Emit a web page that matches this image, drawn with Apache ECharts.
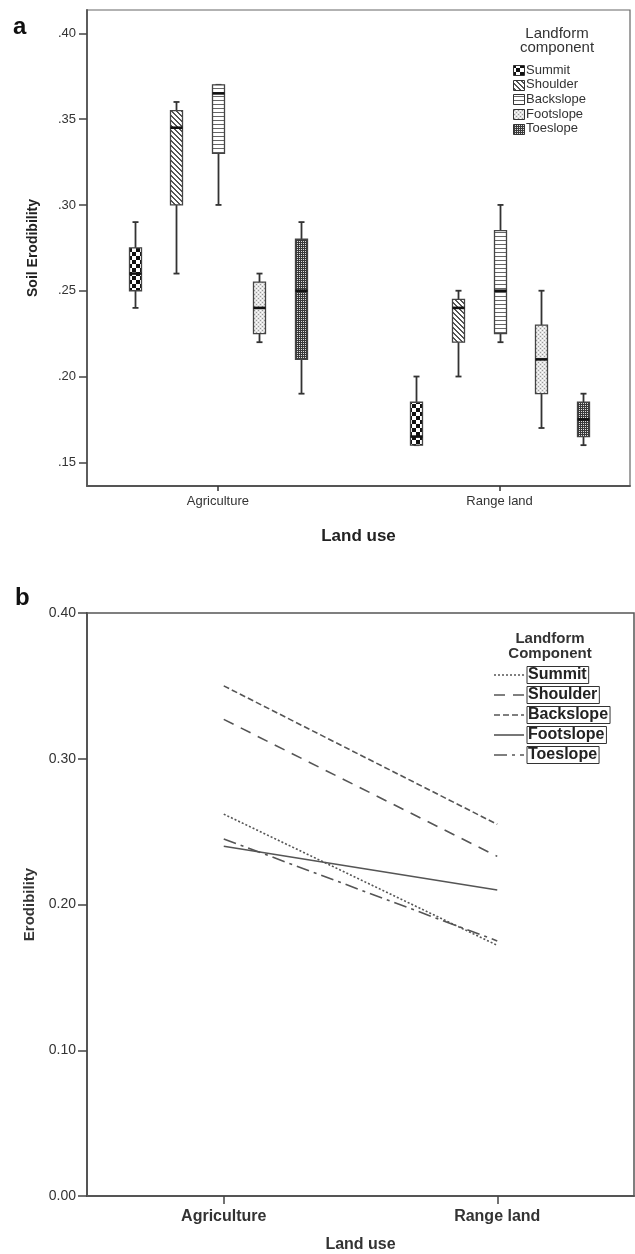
<!DOCTYPE html>
<html><head><meta charset="utf-8">
<script src="https://cdn.jsdelivr.net/npm/echarts@6/dist/echarts.min.js"></script>
<style>html,body{margin:0;padding:0;background:#fff}#c{width:635px;height:1254px}</style>
</head><body><div id="c"></div>
<script>
// ---------- data ----------
const landUse = ['Agriculture', 'Range land'];
const landforms = ['Summit', 'Shoulder', 'Backslope', 'Footslope', 'Toeslope'];
// panel a: box statistics [min, Q1, median, Q3, max]
const agriSummit    = [0.24, 0.25, 0.26, 0.275, 0.29];
const agriShoulder  = [0.26, 0.30, 0.345, 0.355, 0.36];
const agriBackslope = [0.30, 0.33, 0.365, 0.37, 0.37];
const agriFootslope = [0.22, 0.225, 0.24, 0.255, 0.26];
const agriToeslope  = [0.19, 0.21, 0.25, 0.28, 0.29];
const rangeSummit    = [0.16, 0.16, 0.165, 0.185, 0.20];
const rangeShoulder  = [0.20, 0.22, 0.24, 0.245, 0.25];
const rangeBackslope = [0.22, 0.225, 0.25, 0.285, 0.30];
const rangeFootslope = [0.17, 0.19, 0.21, 0.23, 0.25];
const rangeToeslope  = [0.16, 0.165, 0.175, 0.185, 0.19];
const yTicksA = [0.15, 0.20, 0.25, 0.30, 0.35, 0.40];
// panel b: mean erodibility [Agriculture, Range land]
const meanSummit    = [0.262, 0.172];
const meanShoulder  = [0.327, 0.233];
const meanBackslope = [0.350, 0.255];
const meanFootslope = [0.240, 0.210];
const meanToeslope  = [0.245, 0.175];

const agriBoxes  = [agriSummit, agriShoulder, agriBackslope, agriFootslope, agriToeslope];
const rangeBoxes = [rangeSummit, rangeShoulder, rangeBackslope, rangeFootslope, rangeToeslope];
const means = [meanSummit, meanShoulder, meanBackslope, meanFootslope, meanToeslope];

// ---------- styles ----------
const FONT = 'Liberation Sans, Arial, sans-serif';
function pat(w, h, draw) {
  const c = document.createElement('canvas'); c.width = w; c.height = h;
  const g = c.getContext('2d'); g.fillStyle = '#fff'; g.fillRect(0, 0, w, h); draw(g);
  return { image: c, repeat: 'repeat' };
}
const patterns = [
  pat(8, 8, g => { g.fillStyle = '#111'; g.fillRect(0, 0, 4, 4); g.fillRect(4, 4, 4, 4); }),
  pat(5, 5, g => { g.fillStyle = '#555'; for (let i = 0; i < 5; i++) { g.fillRect(i, i, 1, 1); g.fillRect((i + 1) % 5, i, 1, 1); } }),
  pat(1, 4, g => { g.fillStyle = '#666'; g.fillRect(0, 0, 1, 1); }),
  pat(4, 4, g => { g.fillStyle = '#e2e2e2'; g.fillRect(0, 0, 4, 4); g.fillStyle = '#999'; g.fillRect(0, 0, 1, 1); g.fillRect(2, 2, 1, 1); g.fillStyle = '#fff'; g.fillRect(2, 0, 1, 1); g.fillRect(0, 2, 1, 1); }),
  pat(4, 4, g => { g.fillStyle = '#3a3a3a'; g.fillRect(0, 0, 4, 4); g.fillStyle = '#ddd'; g.fillRect(1, 1, 1, 1); g.fillRect(3, 3, 1, 1); g.fillRect(1, 3, 1, 1); g.fillRect(3, 1, 1, 1); })
];
const dashes = [[2, 2], [11, 8], [6, 3], 'solid', [13, 5, 3, 5]];
const BOX_STEP = 0.1475; // spacing between neighbouring boxes, in category units

function boxSeries(i) {
  return {
    type: 'custom', name: landforms[i], xAxisIndex: 0, yAxisIndex: 0,
    data: [[1].concat(agriBoxes[i]), [2].concat(rangeBoxes[i])],
    encode: { x: 0, y: [1, 2, 3, 4, 5] },
    renderItem: function (params, api) {
      const xv = api.value(0) + (i - 2) * BOX_STEP;
      const lo = api.coord([xv, api.value(1)]);
      const q1 = api.coord([xv, api.value(2)]);
      const md = api.coord([xv, api.value(3)]);
      const q3 = api.coord([xv, api.value(4)]);
      const hi = api.coord([xv, api.value(5)]);
      const cx = Math.round(lo[0]) + 0.5, hw = 6, cw = 3;
      const ws = { stroke: '#333', lineWidth: 1.8 };
      return { type: 'group', children: [
        { type: 'line', shape: { x1: cx, y1: hi[1], x2: cx, y2: q3[1] }, style: ws },
        { type: 'line', shape: { x1: cx, y1: q1[1], x2: cx, y2: lo[1] }, style: ws },
        { type: 'line', shape: { x1: cx - cw, y1: hi[1], x2: cx + cw, y2: hi[1] }, style: ws },
        { type: 'line', shape: { x1: cx - cw, y1: lo[1], x2: cx + cw, y2: lo[1] }, style: ws },
        { type: 'rect', shape: { x: cx - hw, y: q3[1], width: 2 * hw, height: q1[1] - q3[1] },
          style: { fill: patterns[i], stroke: '#444', lineWidth: 1.3 } },
        { type: 'line', shape: { x1: cx - hw, y1: md[1], x2: cx + hw, y2: md[1] }, style: { stroke: '#111', lineWidth: 2.6 } }
      ] };
    }
  };
}

function lineSeries(i) {
  return {
    type: 'line', name: landforms[i], xAxisIndex: 1, yAxisIndex: 1,
    data: means[i], symbol: 'none', silent: true,
    lineStyle: { color: '#555', width: 1.6, type: dashes[i] }
  };
}

// ---------- legends (graphic) ----------
const graphics = [];
graphics.push({ type: 'text', left: 13, top: 15, style: { text: 'a', font: 'bold 24px Liberation Sans Narrow, ' + FONT, fill: '#111' } });
graphics.push({ type: 'text', left: 15, top: 586, style: { text: 'b', font: 'bold 24px Liberation Sans Narrow, ' + FONT, fill: '#111' } });
graphics.push({ type: 'text', x: 557, y: 27, style: { text: 'Landform\ncomponent', align: 'center', font: '15px ' + FONT, lineHeight: 14, fill: '#333' } });
landforms.forEach((n, i) => {
  const y = 70 + i * 14.7;
  graphics.push({ type: 'rect', shape: { x: 513.5, y: Math.round(y - 5) + 0.5, width: 11, height: 10 }, style: { fill: patterns[i], stroke: '#333', lineWidth: 1 } });
  graphics.push({ type: 'text', x: 526, y: y, style: { text: n, verticalAlign: 'middle', font: '13px ' + FONT, fill: '#333' } });
});
graphics.push({ type: 'text', x: 550, y: 631, style: { text: 'Landform\nComponent', align: 'center', font: 'bold 15px ' + FONT, lineHeight: 15, fill: '#333' } });
landforms.forEach((n, i) => {
  const y = 675 + i * 20;
  graphics.push({ type: 'line', shape: { x1: 494, y1: y, x2: 524, y2: y }, style: { stroke: '#555', lineWidth: 1.6, lineDash: dashes[i] === 'solid' ? null : dashes[i] } });
  graphics.push({ type: 'text', x: 527, y: y, style: { text: n, verticalAlign: 'middle', font: 'bold 16px ' + FONT, fill: '#222', borderColor: '#333', borderWidth: 1, padding: [1, 2, 0, 1] } });
});

const chart = echarts.init(document.getElementById('c'));
chart.setOption({
  animation: false,
  backgroundColor: '#fff',
  grid: [
    { left: 87, top: 10, right: 5, bottom: 768, show: true, borderColor: '#666', borderWidth: 1.2 },
    { left: 87, top: 613, right: 1, bottom: 49, show: true, borderColor: '#555', borderWidth: 1.5 }
  ],
  xAxis: [
    { type: 'value', gridIndex: 0, min: 0.5353, max: 2.463,
      axisLine: { show: true, lineStyle: { color: '#555', width: 1.8 } },
      axisTick: { show: true, customValues: [1, 2], length: 5, lineStyle: { color: '#333', width: 1.5 } },
      axisLabel: { customValues: [1, 2], formatter: v => landUse[Math.round(v) - 1], fontSize: 13, fontFamily: FONT, color: '#333', margin: 9 },
      splitLine: { show: false },
      name: 'Land use', nameLocation: 'middle', nameGap: 42,
      nameTextStyle: { fontSize: 17, fontWeight: 'bold', fontFamily: FONT, color: '#222' } },
    { type: 'category', gridIndex: 1, data: landUse, boundaryGap: true,
      axisLine: { show: true, lineStyle: { color: '#555', width: 2 } },
      axisTick: { show: true, alignWithLabel: true, length: 8, lineStyle: { color: '#444', width: 1.5 } },
      axisLabel: { fontSize: 16, fontWeight: 'bold', fontFamily: FONT, color: '#333', margin: 13 },
      name: 'Land use', nameLocation: 'middle', nameGap: 41,
      nameTextStyle: { fontSize: 16, fontWeight: 'bold', fontFamily: FONT, color: '#333' } }
  ],
  yAxis: [
    { type: 'value', gridIndex: 0, min: 0.1362, max: 0.4136,
      axisLine: { show: true, lineStyle: { color: '#555', width: 1.8 } },
      axisTick: { show: true, customValues: yTicksA, length: 8, lineStyle: { color: '#444', width: 1.5 } },
      axisLabel: { customValues: yTicksA, formatter: v => v.toFixed(2).replace(/^0/, ''), fontSize: 13, fontFamily: FONT, color: '#333', margin: 11 },
      splitLine: { show: false },
      name: 'Soil Erodibility', nameLocation: 'middle', nameGap: 47,
      nameTextStyle: { fontSize: 14, fontWeight: 'bold', fontFamily: FONT, color: '#222' } },
    { type: 'value', gridIndex: 1, min: 0, max: 0.4, interval: 0.1,
      axisLine: { show: true, lineStyle: { color: '#555', width: 2 } },
      axisTick: { show: true, length: 9, lineStyle: { color: '#444', width: 1.5 } },
      axisLabel: { formatter: v => v.toFixed(2), fontSize: 14, fontFamily: FONT, color: '#333', margin: 11 },
      splitLine: { show: false },
      name: 'Erodibility', nameLocation: 'middle', nameGap: 48,
      nameTextStyle: { fontSize: 15, fontWeight: 'bold', fontFamily: FONT, color: '#333' } }
  ],
  series: [0, 1, 2, 3, 4].map(boxSeries).concat([0, 1, 2, 3, 4].map(lineSeries)),
  graphic: graphics
});
</script></body></html>
